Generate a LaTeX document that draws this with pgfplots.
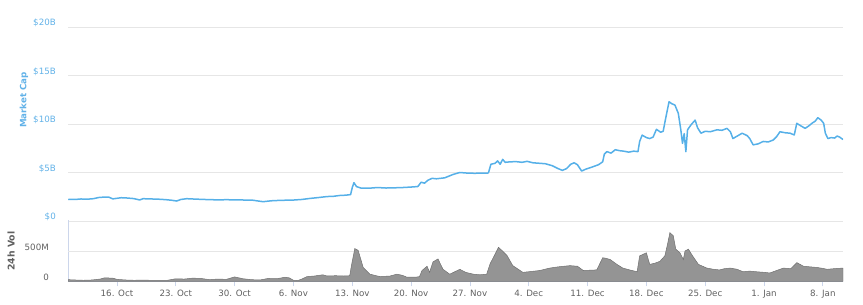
\documentclass[border=0pt]{standalone}
\usepackage{fontspec}
\setmainfont{DejaVu Sans}
\usepackage{pgfplots}
\pgfplotsset{compat=1.18}
\definecolor{capblue}{RGB}{86,176,232}
\definecolor{labblue}{RGB}{98,178,232}
\definecolor{gridc}{RGB}{230,230,230}
\definecolor{axc}{RGB}{204,214,235}
\definecolor{txt}{RGB}{96,96,96}
\definecolor{volfill}{RGB}{148,148,148}
\definecolor{voledge}{RGB}{112,112,112}
\begin{document}
\begin{tikzpicture}
\useasboundingbox (0pt,0pt) rectangle (863pt,305pt);
\begin{axis}[
  at={(68pt,84pt)}, anchor=south west,
  scale only axis, width=775pt, height=194pt,
  xmin=-5.83, xmax=86.4, ymin=0, ymax=20,
  axis line style={draw=none},
  xtick=\empty,
  ytick={0,5,10,15,20},
  yticklabels={\$0,\$5B,\$10B,\$15B,\$20B},
  ytick style={draw=none},
  ymajorgrids, grid style={gridc, line width=0.8pt},
  yticklabel style={font=\fontsize{8.7}{10}\selectfont, text=labblue, anchor=east, inner sep=0pt, xshift=-12pt, yshift=4pt},
  ylabel={\fontsize{8.7}{10}\selectfont\bfseries Market Cap},
  every axis y label/.style={at={(axis description cs:-0.0568,0.624)}, rotate=90, anchor=center, text=labblue},
]
\addplot[capblue, line width=1.5pt, line join=round] coordinates {
(-5.8,2.24)(-5.0,2.22)(-4.3,2.27)(-3.5,2.25)(-2.8,2.30)(-2.2,2.42)(-1.6,2.46)(-1.0,2.47)(-0.5,2.28)
(0.0,2.34)(0.5,2.40)(1.2,2.37)(2.0,2.31)(2.7,2.17)(3.1,2.30)(3.8,2.28)(4.5,2.26)(5.1,2.24)(5.8,2.20)
(6.5,2.14)(7.1,2.06)(7.6,2.22)(8.3,2.30)(9.0,2.27)(9.8,2.24)(10.7,2.21)(11.5,2.19)(12.3,2.18)(13.1,2.20)
(13.8,2.17)(14.6,2.18)(15.4,2.15)(16.2,2.14)(16.8,2.06)(17.4,1.99)(18.0,2.05)(18.6,2.10)(19.3,2.12)
(20.0,2.14)(21.0,2.16)(22.0,2.22)(23.0,2.33)(24.0,2.42)(25.0,2.52)(25.8,2.55)(26.5,2.63)(27.2,2.66)
(27.8,2.72)(28.0,3.45)(28.2,3.95)(28.5,3.55)(29.0,3.40)(30.0,3.38)(31.0,3.45)(32.0,3.40)(33.0,3.42)
(34.0,3.45)(35.0,3.50)(35.8,3.55)(36.2,4.00)(36.6,3.90)(37.0,4.20)(37.5,4.40)(38.0,4.35)(39.0,4.45)
(40.0,4.80)(40.8,5.00)(41.5,4.95)(42.5,4.92)(43.5,4.93)(44.2,4.95)(44.5,5.85)(45.0,5.95)(45.3,6.20)
(45.6,5.85)(45.9,6.35)(46.2,6.05)(46.8,6.10)(47.5,6.12)(48.2,6.05)(48.8,6.15)(49.5,6.00)(50.3,5.95)
(51.0,5.90)(51.8,5.70)(52.5,5.40)(53.0,5.22)(53.5,5.40)(54.0,5.85)(54.4,6.00)(54.8,5.80)(55.3,5.15)
(55.8,5.35)(56.5,5.55)(57.3,5.80)(57.8,6.10)(58.0,6.90)(58.3,7.15)(58.8,7.00)(59.3,7.35)(59.8,7.25)
(60.3,7.20)(60.9,7.10)(61.5,7.20)(62.0,7.15)(62.2,8.20)(62.5,8.85)(63.0,8.60)(63.4,8.50)(63.8,8.65)
(64.2,9.45)(64.7,9.15)(65.0,9.25)(65.3,10.60)(65.7,12.30)(66.0,12.10)(66.4,11.95)(66.8,11.10)
(67.1,9.40)(67.3,8.00)(67.5,9.00)(67.7,7.15)(67.9,9.40)(68.3,9.90)(68.8,10.40)(69.1,9.60)(69.5,9.05)
(70.0,9.25)(70.6,9.20)(71.4,9.40)(72.0,9.35)(72.6,9.55)(73.0,9.20)(73.3,8.50)(73.8,8.75)(74.4,9.05)
(75.0,8.80)(75.3,8.50)(75.7,7.85)(76.3,7.95)(76.9,8.20)(77.5,8.15)(78.1,8.35)(78.5,8.70)(78.9,9.20)
(79.5,9.10)(80.1,9.05)(80.6,8.87)(80.9,10.07)(81.4,9.80)(81.9,9.55)(82.4,9.85)(82.7,10.07)(83.1,10.30)
(83.4,10.65)(83.8,10.40)(84.1,10.07)(84.3,9.05)(84.6,8.50)(85.0,8.60)(85.4,8.55)(85.7,8.76)(86.0,8.65)
(86.4,8.40)
};
\end{axis}
\begin{axis}[
  at={(68pt,23.5pt)}, anchor=south west,
  scale only axis, width=775pt, height=61pt,
  xmin=-5.83, xmax=86.4, ymin=0, ymax=1000,
  axis x line*=bottom, axis y line*=left,
  axis line style={axc, line width=0.8pt, -},
  xtick={0,7,...,84},
  xticklabels={16. Oct,23. Oct,30. Oct,6. Nov,13. Nov,20. Nov,27. Nov,4. Dec,11. Dec,18. Dec,25. Dec,1. Jan,8. Jan},
  tick align=outside, major tick length=5pt,
  xtick style={axc, line width=0.8pt},
  ytick={0,500}, yticklabels={0,500M},
  ytick style={draw=none},
  extra y ticks={500}, extra y tick labels={},
  extra y tick style={ymajorgrids, grid style={gridc, line width=0.8pt}},
  xticklabel style={font=\fontsize{8.7}{10}\selectfont, text=txt, anchor=north, inner sep=0pt, yshift=-3pt},
  yticklabel style={font=\fontsize{8.7}{10}\selectfont, text=txt, anchor=east, inner sep=0pt, xshift=-14pt, yshift=4pt},
  ylabel={\fontsize{9.3}{11}\selectfont\bfseries 24h Vol},
  every axis y label/.style={at={(axis description cs:-0.0735,0.5)}, rotate=90, anchor=center, text=txt},
]
\addplot[fill=volfill, draw=voledge, line width=0.5pt] coordinates {
(-5.8,30)(-5,25)(-4,20)(-3,25)(-2,40)(-1.5,60)(-0.5,55)(0,35)(1,25)(2,20)(3,22)(4,20)(5,18)(6,20)
(7,45)(8,40)(9,55)(10,50)(11,30)(12,40)(13,35)(14,75)(15,45)(16,30)(17,25)(18,50)(19,45)(20,70)
(20.5,60)(21,20)(21.5,15)(22,40)(22.6,80)(23.5,90)(24.5,110)(25,90)(26,95)(27,90)(27.7,95)(27.9,260)
(28.3,540)(28.7,510)(29.3,230)(30.1,120)(31.3,80)(32.5,90)(33.3,120)(34,100)(34.5,70)(35.5,70)(36,80)
(36.3,180)(36.9,250)(37.2,150)(37.6,320)(38.2,370)(38.8,200)(39.6,120)(40.8,200)(41.5,150)(42.4,120)
(43.2,110)(44,120)(44.4,290)(45,450)(45.4,560)(45.8,510)(46.4,430)(47.1,260)(48.3,150)(49,160)
(50.3,180)(51.5,220)(52.5,240)(53.9,260)(54.8,250)(55.5,180)(56.3,185)(57.1,190)(57.8,390)(58.2,380)
(58.7,360)(59.5,280)(60.2,220)(61,190)(61.9,160)(62.2,420)(63,470)(63.4,280)(64,300)(64.6,330)
(65.2,420)(65.5,600)(65.8,800)(66.2,750)(66.5,530)(67,470)(67.4,360)(67.6,500)(68,530)(68.5,420)
(69.2,280)(70.2,220)(71,200)(71.7,190)(72.3,210)(73,220)(73.8,200)(74.5,160)(75.3,170)(76.1,160)
(77,150)(77.7,140)(78.5,180)(79.3,220)(80.2,210)(80.9,310)(81.7,250)(82.5,240)(83.3,230)(84,215)
(84.5,200)(85.3,210)(86.4,220)
} \closedcycle;
\end{axis}
\end{tikzpicture}
\end{document}
